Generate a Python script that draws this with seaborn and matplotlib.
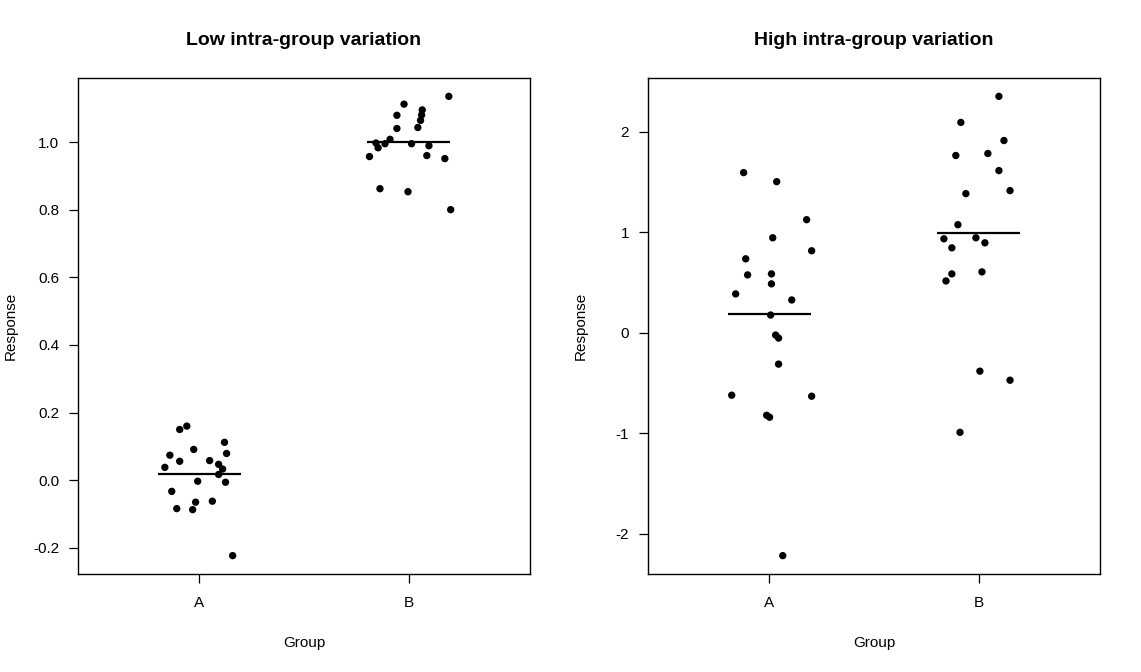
import numpy as np
import pandas as pd
import matplotlib
matplotlib.use("Agg")
import matplotlib.pyplot as plt
import seaborn as sns

# values (jitter offsets are horizontal scatter around each group)
groups = ["A", "B"]

low_a_jit = [-0.094, -0.060, 0.120, -0.141, -0.027, 0.130, -0.094, 0.049, -0.165, 0.092,
             0.111, 0.092, -0.008, 0.125, -0.132, -0.018, 0.062, -0.108, -0.032, 0.159]
low_a_val = [0.150, 0.160, 0.112, 0.074, 0.091, 0.079, 0.056, 0.058, 0.038, 0.047,
             0.033, 0.017, -0.003, -0.006, -0.033, -0.065, -0.062, -0.084, -0.087, -0.223]
low_b_jit = [0.192, -0.022, 0.065, -0.056, 0.062, 0.057, -0.056, 0.044, -0.089, -0.156,
             -0.113, -0.146, 0.014, 0.097, -0.187, 0.087, 0.173, -0.137, -0.003, 0.201]
low_b_val = [1.135, 1.112, 1.095, 1.079, 1.080, 1.064, 1.040, 1.043, 1.008, 0.997,
             0.995, 0.983, 0.995, 0.989, 0.957, 0.960, 0.951, 0.862, 0.853, 0.800]

high_a_jit = [-0.123, 0.035, 0.178, 0.016, 0.202, -0.113, -0.104, 0.010, 0.010, -0.161,
              0.107, 0.006, 0.030, 0.044, 0.044, -0.180, 0.202, -0.013, 0.001, 0.064]
high_a_val = [1.592, 1.502, 1.124, 0.944, 0.815, 0.735, 0.575, 0.585, 0.486, 0.386,
              0.326, 0.176, -0.023, -0.053, -0.312, -0.621, -0.631, -0.821, -0.840, -2.216]
high_b_jit = [0.097, -0.085, 0.121, -0.109, 0.044, 0.097, -0.061, 0.150, -0.099, -0.166,
              -0.013, 0.030, -0.128, -0.128, 0.016, -0.156, 0.006, 0.150, -0.089]
high_b_val = [2.350, 2.091, 1.911, 1.762, 1.782, 1.612, 1.383, 1.413, 1.074, 0.934,
              0.944, 0.894, 0.844, 0.585, 0.605, 0.515, -0.382, -0.472, -0.990]

low_ticks = [-0.2, 0.0, 0.2, 0.4, 0.6, 0.8, 1.0]
low_tick_labels = ["-0.2", "0.0", "0.2", "0.4", "0.6", "0.8", "1.0"]
high_ticks = [-2, -1, 0, 1, 2]
high_tick_labels = ["-2", "-1", "0", "1", "2"]

titles = ["Low intra-group variation", "High intra-group variation"]

sns.set_style("ticks")
plt.rcParams["font.family"] = ["Liberation Sans", "DejaVu Sans"]
plt.rcParams["text.color"] = "black"
plt.rcParams["axes.labelcolor"] = "black"


def make_frame(a_jit, a_val, b_jit, b_val):
    df = pd.DataFrame({
        "group": ["A"] * len(a_val) + ["B"] * len(b_val),
        "jitter": a_jit + b_jit,
        "Response": a_val + b_val,
    })
    df["pos"] = df["group"].map({"A": 1, "B": 2}) + df["jitter"]
    return df


def draw_panel(ax, df, title, ticks, tick_labels):
    sns.scatterplot(data=df, x="pos", y="Response", ax=ax, color="black",
                    s=28, edgecolor="none", legend=False)
    means = df.groupby("group")["Response"].mean()
    for i, g in enumerate(groups, start=1):
        ax.hlines(means[g], i - 0.2, i + 0.2, color="black", lw=1.6)
    ax.set_xlim(0.42, 2.58)
    ax.margins(y=0.04)
    ax.set_xticks([1, 2])
    ax.set_xticklabels(groups)
    ax.set_yticks(ticks)
    ax.set_yticklabels(tick_labels)
    ax.tick_params(direction="out", length=6.8, width=0.9, labelsize=11,
                   colors="black")
    ax.tick_params(axis="x", pad=9)
    ax.tick_params(axis="y", pad=6.8)
    for sp in ax.spines.values():
        sp.set_visible(True)
        sp.set_linewidth(1.0)
        sp.set_color("black")
    ax.set_xlabel("Group", fontsize=11)
    ax.set_ylabel("Response", fontsize=11)
    ax.xaxis.set_label_coords(0.5, -0.125)
    ax.yaxis.set_label_coords(-0.133, 0.5)
    ax.text(0.5, 1.075, title, transform=ax.transAxes, ha="center", va="center",
            fontsize=14, fontweight="bold")


fig = plt.figure(figsize=(11.41, 6.72), dpi=100)
ax1 = fig.add_axes([78 / 1141, 98 / 672, 452 / 1141, 496 / 672])
ax2 = fig.add_axes([648 / 1141, 98 / 672, 452 / 1141, 496 / 672])

draw_panel(ax1, make_frame(low_a_jit, low_a_val, low_b_jit, low_b_val),
           titles[0], low_ticks, low_tick_labels)
draw_panel(ax2, make_frame(high_a_jit, high_a_val, high_b_jit, high_b_val),
           titles[1], high_ticks, high_tick_labels)

fig.savefig("out.png", dpi=100, facecolor="white")
